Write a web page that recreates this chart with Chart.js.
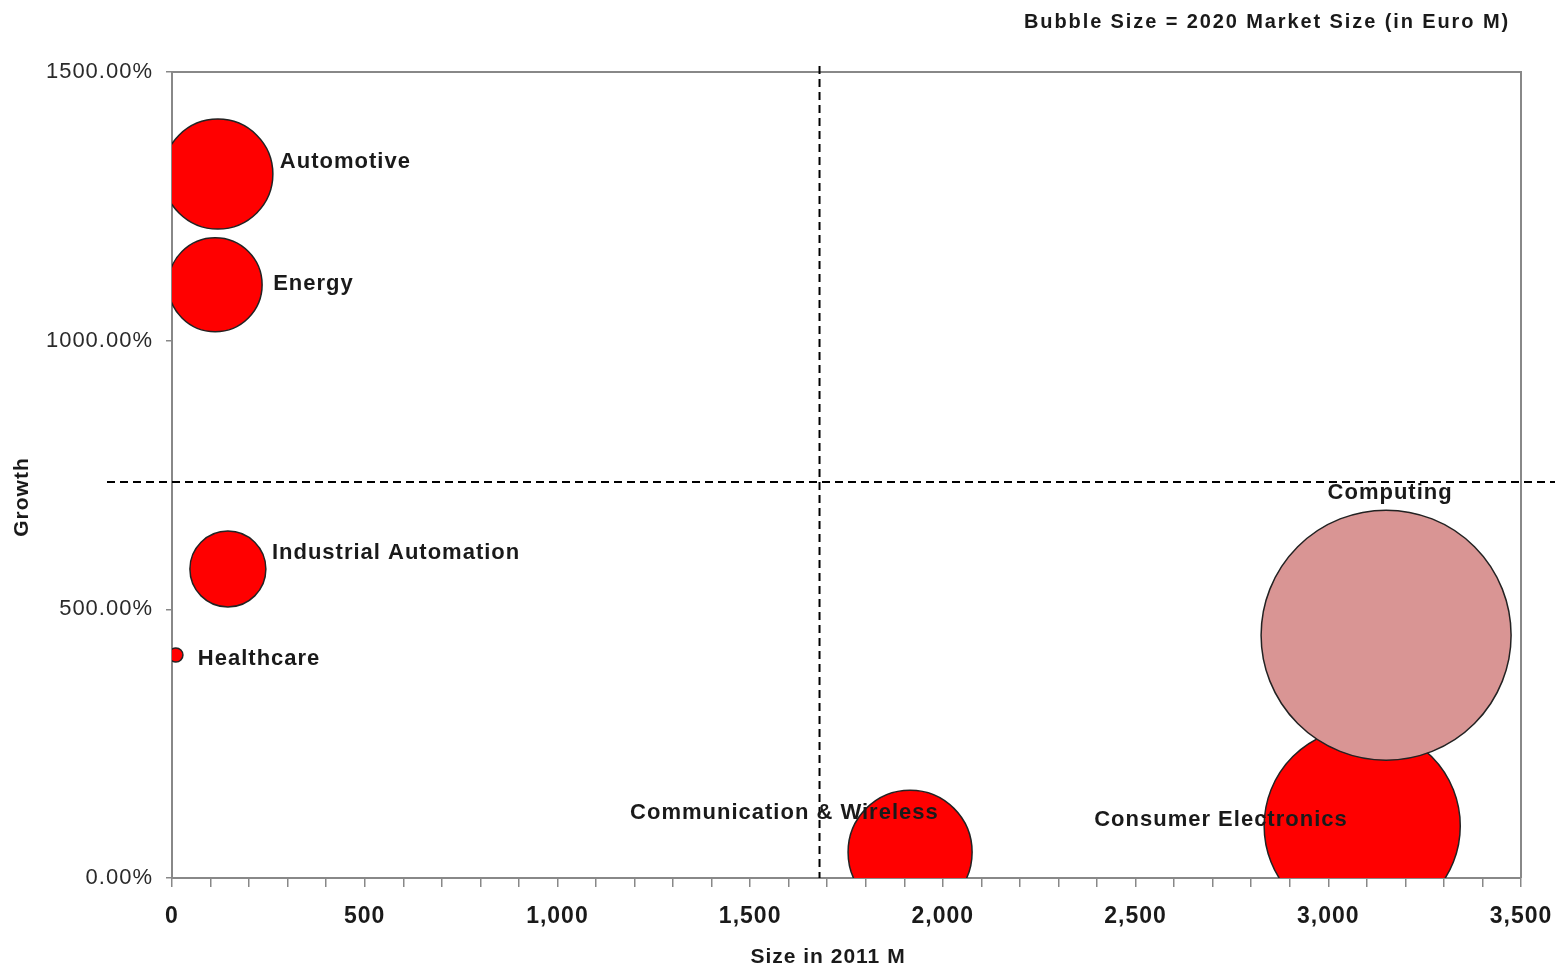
<!DOCTYPE html>
<html>
<head>
<meta charset="utf-8">
<script src="https://cdn.jsdelivr.net/npm/chart.js@4/dist/chart.umd.min.js"></script>
<style>
  html, body { margin: 0; padding: 0; background: #fff; }
  #wrap { width: 1555px; height: 967px; }
</style>
</head>
<body>
<div id="wrap"><canvas id="c" width="1555" height="967"></canvas></div>
<script>
// ---- data ----
const categories = ['Automotive', 'Energy', 'Industrial Automation', 'Healthcare', 'Communication & Wireless', 'Consumer Electronics', 'Computing'];
const size2011 = [119, 112, 145, 10, 1915, 3088, 3150];          // x: Size in 2011 (M)
const growth = [1310, 1104, 575, 415, 48, 97, 452];               // y: Growth (%)
const marketSize2020 = [1510, 1100, 720, 25, 1920, 4800, 7800];   // bubble size: 2020 market size (Euro M)
const xTickLabels = ['0', '500', '1,000', '1,500', '2,000', '2,500', '3,000', '3,500'];
const yTickLabels = ['0.00%', '500.00%', '1000.00%', '1500.00%'];
const refLineX = 1680;   // vertical dashed reference
const refLineY = 737;    // horizontal dashed reference (%)

// ---- styles ----
const MAX_R = 125;
const maxSize = Math.max(...marketSize2020);
const colors = categories.map(c => c === 'Computing' ? '#D99594' : '#FF0000');
const labelStyle = [
  { dx: 62, dy: -12, align: 'left' },
  { dx: 58, dy: -1, align: 'left' },
  { dx: 44, dy: -16, align: 'left' },
  { dx: 22, dy: 4, align: 'left' },
  { dx: -280, dy: -39, align: 'left' },
  { dx: -268, dy: -6, align: 'left' },
  { dx: 4, dy: -142, align: 'center' }
];
const FONT = '"Liberation Sans", Arial, sans-serif';

// bubbles are clipped to the plot area, so no extra layout padding for their overflow
Chart.BubbleController.prototype.getMaxOverflow = function () { return 0; };

const points = categories.map((c, i) => ({
  x: size2011[i],
  y: growth[i],
  r: MAX_R * Math.sqrt(marketSize2020[i] / maxSize)
}));

const overlay = {
  id: 'overlay',
  beforeDraw(chart) {
    chart.ctx.letterSpacing = '1px';
  },
  beforeDatasetsDraw(chart) {
    const { ctx, chartArea: a } = chart;
    ctx.save();
    ctx.strokeStyle = '#888';
    ctx.lineWidth = 2;
    ctx.beginPath();
    ctx.moveTo(a.left, a.top);
    ctx.lineTo(a.right, a.top);
    ctx.lineTo(a.right, a.bottom);
    ctx.stroke();
    ctx.restore();
  },
  afterDatasetsDraw(chart) {
    const { ctx, chartArea: a, scales: { x, y } } = chart;
    ctx.save();
    // dashed reference lines
    ctx.setLineDash([8, 5]);
    ctx.strokeStyle = '#000';
    ctx.lineWidth = 2;
    const px = x.getPixelForValue(refLineX);
    const py = y.getPixelForValue(refLineY);
    ctx.beginPath();
    ctx.moveTo(px, a.top - 6);
    ctx.lineTo(px, a.bottom);
    ctx.moveTo(a.left - 65, py);
    ctx.lineTo(chart.width, py);
    ctx.stroke();
    ctx.setLineDash([]);

    // bubble labels
    const meta = chart.getDatasetMeta(0);
    ctx.fillStyle = '#1a1a1a';
    ctx.font = 'bold 22px ' + FONT;
    ctx.letterSpacing = '1px';
    ctx.textBaseline = 'middle';
    meta.data.forEach((el, i) => {
      const s = labelStyle[i];
      ctx.textAlign = s.align;
      ctx.fillText(categories[i], el.x + s.dx, el.y + s.dy);
    });

    // axis titles
    ctx.font = 'bold 21px ' + FONT;
    ctx.textAlign = 'center';
    ctx.fillText('Size in 2011 M', 828, 957);
    ctx.save();
    ctx.translate(22, 497);
    ctx.rotate(-Math.PI / 2);
    ctx.fillText('Growth', 0, 0);
    ctx.restore();

    // bubble size note
    ctx.font = 'bold 20px ' + FONT;
    ctx.letterSpacing = '1.9px';
    ctx.textAlign = 'right';
    ctx.fillText('Bubble Size = 2020 Market Size (in Euro M)', 1510, 22);
    ctx.restore();
  }
};

new Chart(document.getElementById('c'), {
  type: 'bubble',
  data: {
    datasets: [{
      data: points,
      backgroundColor: colors,
      borderColor: '#222',
      borderWidth: 1.5,
      clip: 0
    }]
  },
  options: {
    responsive: false,
    animation: false,
    events: [],
    layout: { padding: { top: 72, right: 34, bottom: 0, left: 0 } },
    plugins: { legend: { display: false }, tooltip: { enabled: false }, title: { display: false } },
    scales: {
      x: {
        type: 'linear',
        min: 0, max: 3500,
        afterFit(s) { s.height = 89; s.paddingRight = 0; s.paddingLeft = 0; },
        afterBuildTicks(s) {
          const t = [];
          for (let v = 0; v <= 3500; v += 100) t.push({ value: v });
          s.ticks = t;
        },
        ticks: {
          autoSkip: false,
          maxRotation: 0,
          padding: 16,
          color: '#1a1a1a',
          font: { family: FONT, size: 23, weight: 'bold' },
          callback: v => (v % 500 === 0 ? xTickLabels[v / 500] : '')
        },
        grid: { drawOnChartArea: false, drawTicks: true, tickLength: 9, color: '#888', lineWidth: 1.5 },
        border: { display: true, color: '#888', width: 2 }
      },
      y: {
        type: 'linear',
        min: 0, max: 1500,
        afterFit(s) { s.width = 172; s.paddingTop = 0; s.paddingBottom = 0; },
        afterBuildTicks(s) {
          s.ticks = yTickLabels.map((l, i) => ({ value: i * 500 }));
        },
        ticks: {
          padding: 13,
          color: '#2a2a2a',
          font: { family: FONT, size: 22 },
          callback: (v) => yTickLabels[v / 500]
        },
        grid: { drawOnChartArea: false, drawTicks: true, tickLength: 6, color: '#888', lineWidth: 1.5 },
        border: { display: true, color: '#888', width: 2 }
      }
    }
  },
  plugins: [overlay]
});
</script>
</body>
</html>
